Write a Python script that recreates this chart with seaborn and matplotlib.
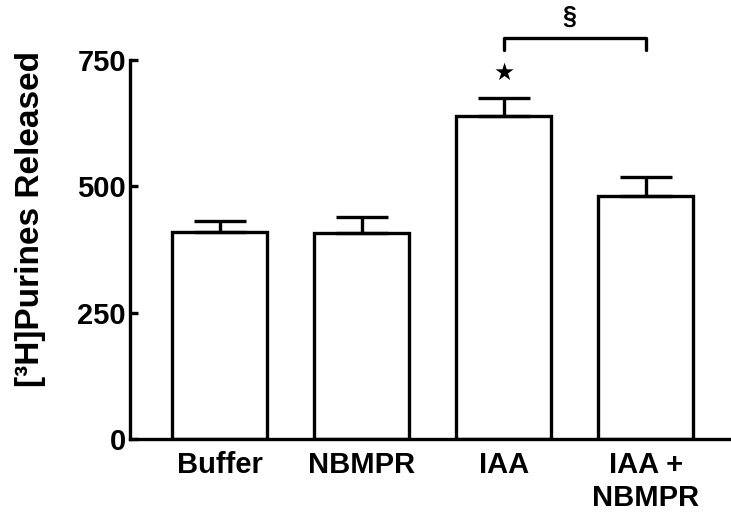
import matplotlib
matplotlib.use("Agg")
import matplotlib.pyplot as plt
import numpy as np
import pandas as pd
import seaborn as sns

## --- values
groups = ["Buffer", "NBMPR", "IAA", "IAA +\nNBMPR"]
released = [410, 407, 640, 481]
sem = [22, 33, 36, 38]
y_ticks = [0, 250, 500, 750]

sns.set_style("ticks")
plt.rcParams["font.family"] = ["Liberation Sans", "DejaVu Sans"]
plt.rcParams["font.weight"] = "bold"
plt.rcParams["text.color"] = "black"
plt.rcParams["axes.labelcolor"] = "black"
plt.rcParams["xtick.color"] = "black"
plt.rcParams["ytick.color"] = "black"
plt.rcParams["axes.edgecolor"] = "black"

df = pd.DataFrame({"group": groups, "released": released})

fig = plt.figure(figsize=(7.31, 5.14), dpi=100)
ax = fig.add_axes([0.178, 0.146, 0.822, 0.737])

sns.barplot(data=df, x="group", y="released", order=groups, color="white",
            edgecolor="black", linewidth=2.4, width=0.67, errorbar=None, ax=ax)

## --- only the upper half of the error bars is drawn
xpos = np.arange(len(groups))
ax.errorbar(xpos, released, yerr=[np.zeros(len(sem)), sem], fmt="none",
            ecolor="black", elinewidth=2.4, capsize=19, capthick=2.4)

## --- significance marks
ax.text(2, 725, "★", ha="center", va="center", fontsize=17,
        family="DejaVu Sans")
ax.plot([2, 2, 3, 3], [770, 793, 793, 770], color="black", lw=2.4,
        clip_on=False, solid_capstyle="round")
ax.text(2.46, 835, "§", ha="center", va="center", fontsize=18,
        fontweight="bold")

ax.set_xlim(-0.63, 3.6)
ax.set_ylim(0, 750)
ax.set_yticks(y_ticks)
ax.set_yticklabels([str(t) for t in y_ticks])
ax.tick_params(axis="y", direction="in", length=6, width=2.4, pad=3,
               labelsize=21)
ax.tick_params(axis="x", length=0, pad=9, labelsize=21)
for lab in ax.get_xticklabels() + ax.get_yticklabels():
    lab.set_fontweight("bold")
    lab.set_linespacing(1.2)

ax.set_xlabel("")
ax.set_ylabel("[³H]Purines Released", fontsize=24, fontweight="bold")
ax.yaxis.set_label_coords(-0.14, 0.58)

sns.despine(ax=ax)
for side in ["left", "bottom"]:
    ax.spines[side].set_linewidth(2.4)

fig.savefig("out.png", dpi=100)
